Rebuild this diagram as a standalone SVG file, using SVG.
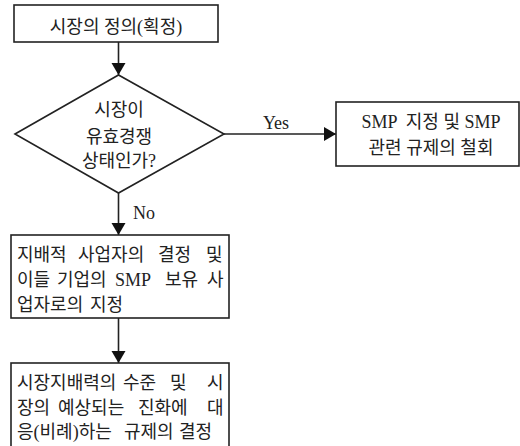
<svg xmlns="http://www.w3.org/2000/svg" width="520" height="446" viewBox="0 0 520 446">
<style>
.box{fill:#fff;stroke:#222;stroke-width:1.6}
.ln{fill:none;stroke:#222;stroke-width:1.6}
text{font-family:'Liberation Serif','Noto Sans CJK KR',serif;font-size:18px;fill:#222}
.c{text-anchor:middle}
</style>
<defs>
<marker id="ah" markerUnits="userSpaceOnUse" markerWidth="14" markerHeight="16" refX="12" refY="7" orient="auto">
<path d="M0,0 L12,7 L0,14 Z" fill="#111"/>
</marker>
</defs>
<rect width="520" height="446" fill="#fff"/>
<g id="connectors">
<line class="ln" x1="118.5" y1="42" x2="118.5" y2="75" marker-end="url(#ah)"/>
<line class="ln" x1="224" y1="134" x2="336" y2="134" marker-end="url(#ah)"/>
<text x="276" y="129" class="c">Yes</text>
<line class="ln" x1="118.5" y1="193" x2="118.5" y2="235" marker-end="url(#ah)"/>
<text x="133" y="219">No</text>
<line class="ln" x1="118.5" y1="318" x2="118.5" y2="363" marker-end="url(#ah)"/>
</g>
<g id="n1">
<rect class="box" x="14" y="5" width="204" height="37"/>
<text x="116" y="33" class="c">시장의 정의(획정)</text>
</g>
<g id="n2">
<polygon class="box" points="15,134 118.5,75 224,134 118.5,193"/>
<text x="119" y="116" class="c">시장이</text>
<text x="119" y="143" class="c">유효경쟁</text>
<text x="119" y="167" class="c">상태인가?</text>
</g>
<g id="n3">
<rect class="box" x="336" y="102" width="183" height="64"/>
<text x="431" y="128" class="c" xml:space="preserve">SMP  지정 및 SMP</text>
<text x="431" y="154" class="c">관련 규제의 철회</text>
</g>
<g id="n4">
<rect class="box" x="11" y="235" width="218" height="83"/>
<text y="261"><tspan x="17">지배적</tspan><tspan x="78">사업자의</tspan><tspan x="158">결정</tspan><tspan x="206">및</tspan></text>
<text y="286"><tspan x="17">이들</tspan><tspan x="57">기업의</tspan><tspan x="115">SMP</tspan><tspan x="165">보유</tspan><tspan x="207">사</tspan></text>
<text y="311"><tspan x="17">업자로의</tspan><tspan x="90">지정</tspan></text>
</g>
<g id="n5">
<rect class="box" x="11" y="363" width="218" height="95"/>
<text y="389"><tspan x="17">시장지배력의</tspan><tspan x="123">수준</tspan><tspan x="170">및</tspan><tspan x="207">시</tspan></text>
<text y="414"><tspan x="17">장의</tspan><tspan x="58">예상되는</tspan><tspan x="138">진화에</tspan><tspan x="207">대</tspan></text>
<text y="438"><tspan x="17">응(비례)하는</tspan><tspan x="124">규제의</tspan><tspan x="179">결정</tspan></text>
</g>
</svg>
